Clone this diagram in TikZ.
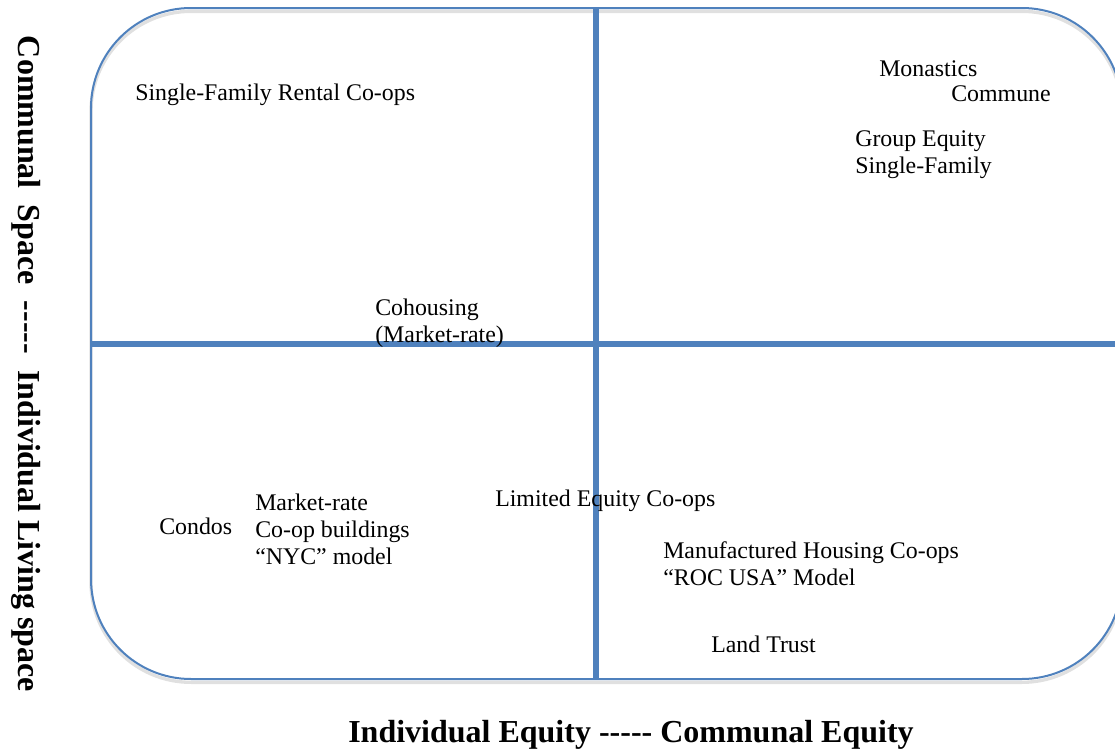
\documentclass[tikz,border=0pt]{standalone}
\usepackage{fontspec}
\setmainfont{Liberation Serif}[Ligatures=TeXOff]
\usetikzlibrary{positioning}

\definecolor{quadblue}{RGB}{79,129,189}

\begin{document}
\begin{tikzpicture}[
    x = 0.75pt, y = -0.75pt, % one unit = one pixel, y grows downwards
    item/.style = {font=\fontsize{17.9}{20.3}\selectfont, inner sep=0pt, align=left, anchor=west},
    axis name/.style = {font=\fontsize{24}{28}\selectfont\bfseries, inner sep=0pt},
    frame/.style = {draw=quadblue, line width=1.5pt, rounded corners=75pt},
    divider/.style = {draw=quadblue, line width=3.8pt},
    shade/.style = {draw=black, opacity=0.12, yshift=-2.5pt}
    ]

    \useasboundingbox (0,0) rectangle (1115,753);

    % ends of the two axes
    \coordinate (top) at (596,8);
    \coordinate (bottom) at (596,679);
    \coordinate (left) at (91,344);
    \coordinate (right) at (1115,344);

    % soft shadows
    \begin{scope}
    \clip (0,0) rectangle (1115,753);
    \draw[shade, line width=2.5pt, rounded corners=75pt] (91,8) rectangle (1122,679);
    \draw[shade, line width=4.5pt] (top) -- (bottom);
    \draw[shade, line width=4.5pt] (left) -- (right);
    \end{scope}

    % frame and quadrants
    \begin{scope}
    \clip (0,0) rectangle (1115,753);
    \draw[frame] (91,8) rectangle (1122,679);
    \end{scope}
    \draw[divider] (top) -- (bottom);
    \draw[divider] (left) -- (right);

    % upper left
    \node[item] (sfrental) at (135,95) {Single-Family Rental Co-ops};
    \node[item] (cohousing) at (375,323) {Cohousing\\(Market-rate)};

    % upper right
    \node[item] (monastics) at (879,69) {Monastics};
    \node[item] (commune) at (951,94) {Commune};
    \node[item] (groupeq) at (855,155) {Group Equity\\Single-Family};

    % lower left
    \node[item] (condos) at (159,526) {Condos};
    \node[item] (nyc) at (255,529) {Market-rate\\Co-op buildings\\“NYC” model};

    % lower right
    \node[item] (limited) at (495,501) {Limited Equity Co-ops};
    \node[item] (roc) at (663,564) {Manufactured Housing Co-ops\\“ROC USA” Model};
    \node[item] (landtrust) at (711,644) {Land Trust};

    % axis names
    \node[axis name] (xname) at (631,735) {Individual Equity ----- Communal Equity};
    \node[axis name, rotate=-90] (yname) at (26,364) {Communal\ \ Space\ \ -----\ \ Individual Living space};

\end{tikzpicture}
\end{document}
